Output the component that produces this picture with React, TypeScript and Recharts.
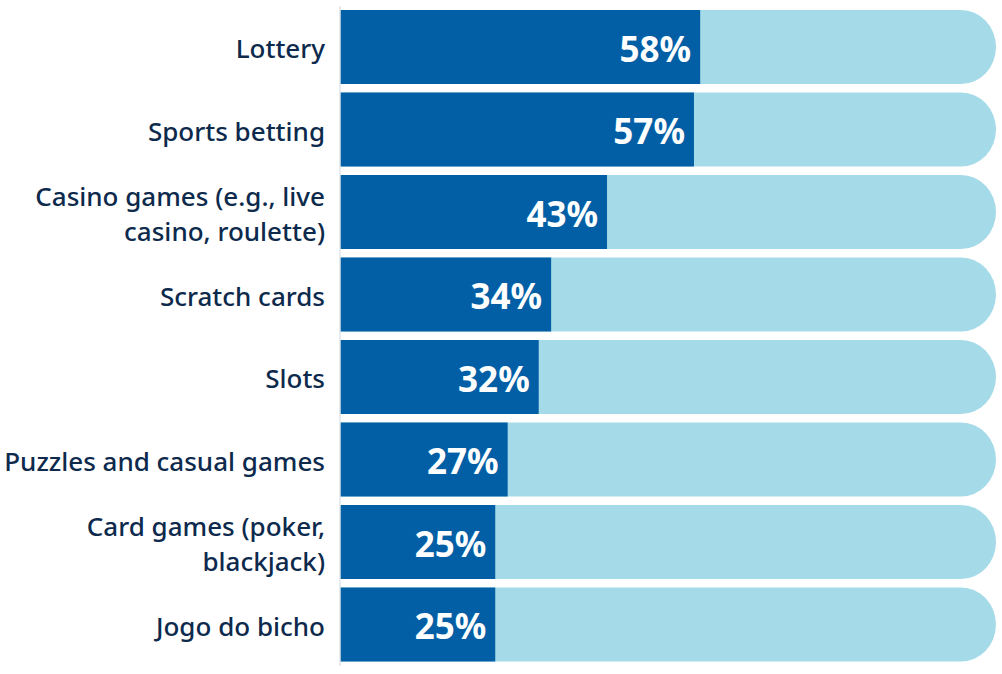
import React from 'react';
import { BarChart, Bar, XAxis, YAxis, LabelList } from 'recharts';

const categories = [
  'Lottery',
  'Sports betting',
  'Casino games (e.g., live\ncasino, roulette)',
  'Scratch cards',
  'Slots',
  'Puzzles and casual games',
  'Card games (poker,\nblackjack)',
  'Jogo do bicho',
];
const shares = [58, 57, 43, 34, 32, 27, 25, 25];

const data = categories.map((name, i) => ({ name, value: shares[i] }));

const DARK = '#035fa5';
const LIGHT = '#a5dbe8';
const NAVY = '#0d2a4d';
const FONT = '"Noto Sans", sans-serif';

const CategoryTick = (props: any) => {
  const { x, y, payload } = props;
  const lines = String(payload.value).split('\n');
  const lh = 35;
  const start = y + 1 - ((lines.length - 1) * lh) / 2;
  return (
    <text x={x} y={start} textAnchor="end" fill={NAVY} fontSize={26} fontWeight={500} fontFamily={FONT} dominantBaseline="central">
      {lines.map((l, i) => (
        <tspan key={i} x={x} y={start + i * lh} dominantBaseline="central">{l}</tspan>
      ))}
    </text>
  );
};

const TrackShape = (props: any) => {
  const { x, y, width, height } = props;
  const rx = 35;
  const ry = height / 2;
  const d = `M${x},${y} H${x + width} A${rx},${ry} 0 0 1 ${x + width},${y + height} H${x} Z`;
  return <path d={d} fill={LIGHT} />;
};

const ValueLabel = (props: any) => {
  const { x, y, width, height, value } = props;
  return (
    <text x={x + width - 9} y={y + height / 2 + 1} textAnchor="end" dominantBaseline="central"
      fill="#ffffff" fontSize={35} fontWeight={700} fontFamily={FONT}>
      {value}%
    </text>
  );
};

export default function App() {
  return (
    <div style={{ position: 'absolute', left: 0, top: 0, background: '#fff' }}>
      <BarChart
        layout="vertical"
        width={1002}
        height={674}
        data={data}
        margin={{ top: 6, right: 41, bottom: 8, left: 0 }}
      >
        <XAxis type="number" domain={[0, 100]} hide />
        <YAxis
          type="category"
          dataKey="name"
          width={340}
          tickLine={false}
          tickSize={0}
          tickMargin={15}
          axisLine={{ stroke: '#dfe5ea', strokeWidth: 1.5 }}
          tick={<CategoryTick />}
          interval={0}
        />
        <Bar dataKey="value" fill={DARK} barSize={74} background={<TrackShape />} isAnimationActive={false}>
          <LabelList dataKey="value" content={<ValueLabel />} />
        </Bar>
      </BarChart>
    </div>
  );
}
